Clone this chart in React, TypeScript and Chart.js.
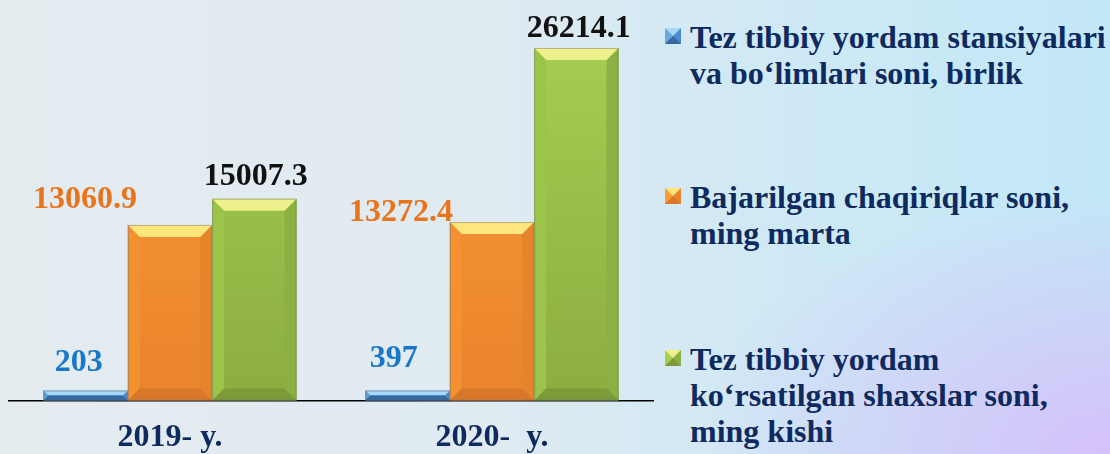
import React, { useEffect, useRef } from "react";
import { Chart, registerables } from "chart.js";

Chart.register(...registerables);

const categories = ["2019- y.", "2020-  y."];
const stations = [203, 397];
const calls = [13060.9, 13272.4];
const persons = [15007.3, 26214.1];

const legendLines = [
  ["Tez tibbiy yordam stansiyalari", "va bo\u2018limlari soni, birlik"],
  ["Bajarilgan chaqiriqlar soni,", "ming marta"],
  ["Tez tibbiy yordam", "ko\u2018rsatilgan shaxslar soni,", "ming kishi"],
];

const FONT = '"Liberation Serif", serif';
const NAVY = "#0f2a5e";

const STYLES = [
  { face: ["#6aa8e2", "#4a88c8"], top: "#a6d8f7", left: "#5f9ed8", right: "#4c8acb", bottom: "#34689f", label: "#1877c6",
    offsets: [[-7, 20], [-14, 24]] },
  { face: ["#fc9c36", "#e9832d"], top: "#fde67c", left: "#f3902f", right: "#e5842a", bottom: "#d8772a", label: "#e8741e",
    offsets: [[-85, 17], [-91, 1]] },
  { face: ["#a6cf52", "#8dac41"], top: "#eef08c", left: "#9cc44a", right: "#8bb043", bottom: "#7c9a39", label: "#111111",
    offsets: [[1.5, 14], [2.5, 11]] },
];

const bevelPlugin = {
  id: "bevel",
  afterDatasetsDraw(chart: any) {
    const ctx = chart.ctx;
    chart.data.datasets.forEach((_ds: any, di: number) => {
      const meta = chart.getDatasetMeta(di);
      const st = STYLES[di];
      meta.data.forEach((el: any, i: number) => {
        const p = el.getProps(["x", "y", "base", "width"], true);
        const L = p.x - p.width / 2;
        const R = p.x + p.width / 2;
        const T = Math.min(p.y, p.base);
        const B = Math.max(p.y, p.base);
        const h = B - T;
        const b = Math.min(12, h * 0.45);
        const poly = (pts: number[][], color: string) => {
          ctx.beginPath();
          ctx.moveTo(pts[0][0], pts[0][1]);
          for (let k = 1; k < pts.length; k++) ctx.lineTo(pts[k][0], pts[k][1]);
          ctx.closePath();
          ctx.fillStyle = color;
          ctx.fill();
        };
        ctx.save();
        poly([[L, T], [L + b, T + b], [L + b, B - b], [L, B]], st.left);
        poly([[R, T], [R, B], [R - b, B - b], [R - b, T + b]], st.right);
        poly([[L, B], [L + b, B - b], [R - b, B - b], [R, B]], st.bottom);
        poly([[L, T], [R, T], [R - b, T + b], [L + b, T + b]], st.top);
        ctx.strokeStyle = "rgba(110,110,110,0.45)";
        ctx.lineWidth = 1;
        ctx.strokeRect(L + 0.5, T + 0.5, R - L - 1, h - 1);
        const val = chart.data.datasets[di].data[i];
        const [dx, dy] = st.offsets[i];
        ctx.font = 'bold 32px "Liberation Serif"';
        ctx.textAlign = "center";
        ctx.textBaseline = "alphabetic";
        ctx.fillStyle = st.label;
        ctx.fillText(String(val), p.x + dx, T - dy);
        ctx.restore();
      });
    });
  },
};

function faceGradient(di: number) {
  return (c: any) => {
    const chart = c.chart;
    const area = chart.chartArea;
    if (!area) return STYLES[di].face[0];
    const g = chart.ctx.createLinearGradient(0, area.top, 0, area.bottom);
    g.addColorStop(0, STYLES[di].face[0]);
    g.addColorStop(1, STYLES[di].face[1]);
    return g;
  };
}

function Marker({ di, top }: { di: number; top: number }) {
  const st = STYLES[di];
  return (
    <div
      style={{
        position: "absolute",
        left: 665,
        top,
        width: 0,
        height: 0,
        borderStyle: "solid",
        borderWidth: 8,
        borderTopColor: st.top,
        borderLeftColor: st.face[0],
        borderRightColor: st.right,
        borderBottomColor: st.bottom,
      }}
    />
  );
}

export default function App() {
  const ref = useRef<HTMLCanvasElement>(null);
  useEffect(() => {
    const chart = new Chart(ref.current!, {
      type: "bar",
      data: {
        labels: categories,
        datasets: [
          { label: legendLines[0].join(" "), data: stations, backgroundColor: faceGradient(0), minBarLength: 10 },
          { label: legendLines[1].join(" "), data: calls, backgroundColor: faceGradient(1) },
          { label: legendLines[2].join(" "), data: persons, backgroundColor: faceGradient(2) },
        ],
      },
      options: {
        responsive: false,
        animation: false,
        layout: { padding: { top: 24, left: 9, right: 7, bottom: 0 } },
        datasets: { bar: { categoryPercentage: 0.786, barPercentage: 1 } },
        plugins: { legend: { display: false }, tooltip: { enabled: false } },
        scales: {
          x: {
            grid: { display: false, drawTicks: false },
            border: { display: true, color: "#000", width: 1.5 },
            ticks: { color: NAVY, font: { family: "Liberation Serif", size: 32, weight: "bold" }, padding: 18 },
          },
          y: { display: false, min: 0, max: 28000 },
        },
      },
      plugins: [bevelPlugin],
    });
    return () => chart.destroy();
  }, []);

  const groupTops = [19, 179, 341];
  const markerTops = [28, 188, 350];

  return (
    <div
      style={{
        position: "fixed",
        left: 0,
        top: 0,
        width: 1110,
        height: 454,
        overflow: "hidden",
        background:
          "radial-gradient(ellipse 420px 260px at 1110px 454px, rgba(214,190,250,0.95), rgba(214,190,250,0) 100%), linear-gradient(90deg, #e5ecf0 0%, #dfeaf1 45%, #cfe9f5 70%, #c2e7f7 100%)",
      }}
    >
      <canvas ref={ref} width={660} height={475} style={{ position: "absolute", left: 0, top: 0 }} />
      {legendLines.map((lines, gi) => (
        <React.Fragment key={gi}>
          <Marker di={gi} top={markerTops[gi]} />
          <div
            style={{
              position: "absolute",
              left: 690,
              top: groupTops[gi],
              fontFamily: FONT,
              fontWeight: "bold",
              fontSize: 32,
              lineHeight: "36px",
              color: NAVY,
              whiteSpace: "nowrap",
            }}
          >
            {lines.map((l, li) => (
              <div key={li}>{l}</div>
            ))}
          </div>
        </React.Fragment>
      ))}
    </div>
  );
}
